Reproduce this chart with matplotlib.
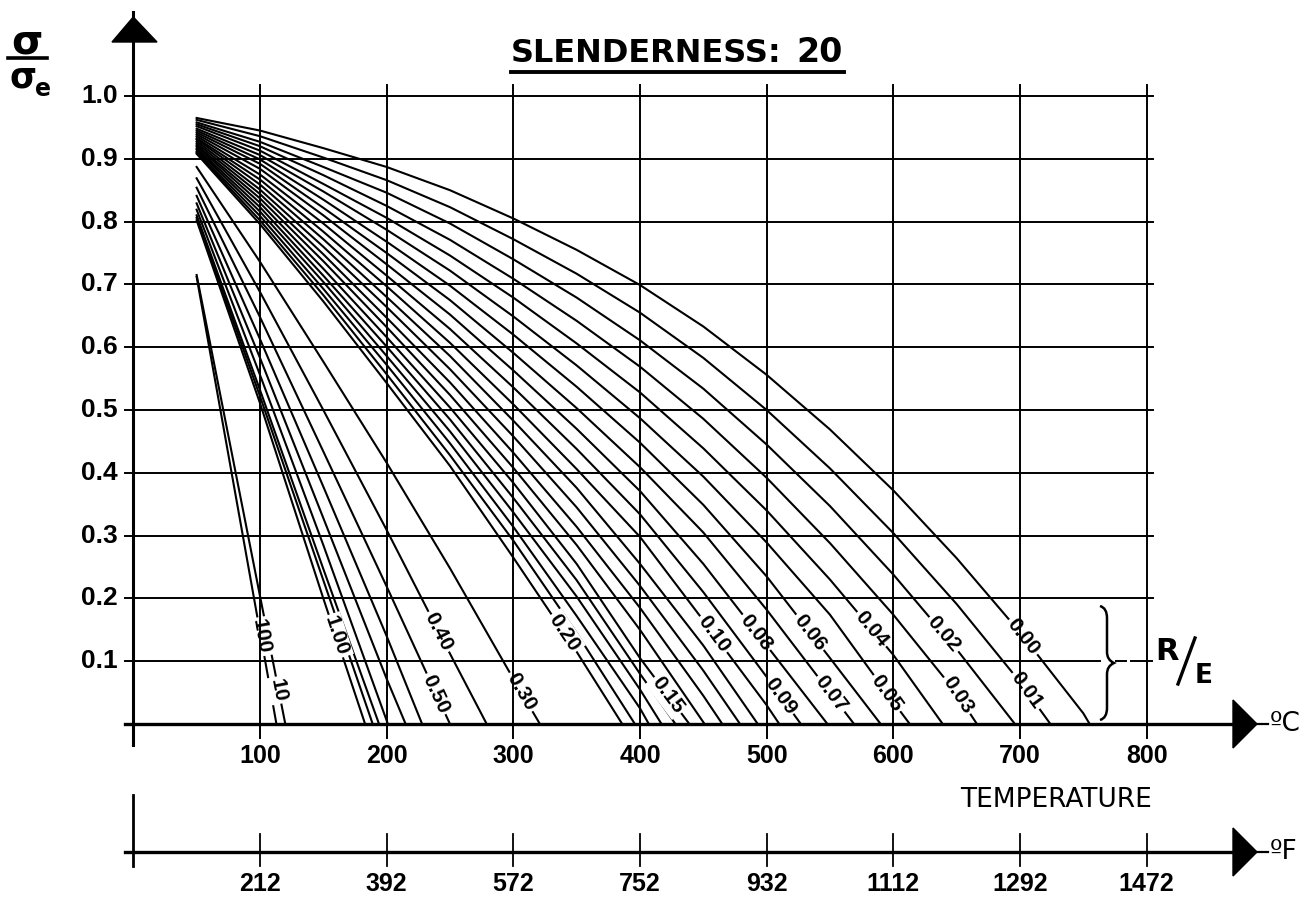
import numpy as np
import matplotlib.pyplot as plt
from matplotlib.path import Path
from matplotlib.patches import PathPatch, Polygon

# R/E of every curve, from the right-most (0.00) to the left-most (100); '' = no label
re_labels = ['0.00', '0.01', '0.02', '0.03', '0.04', '0.05', '0.06', '0.07', '0.08', '0.09',
             '0.10', '', '', '', '', '0.15', '', '', '', '', '0.20', '0.30', '0.40', '0.50',
             '', '', '', '', '', '1.00', '10', '100']
# sigma/sigma_e read at 50, 100, 150 ... C until the curve reaches zero
temps = [50, 100, 150, 200, 250, 300, 350, 400, 450, 500, 550, 600, 650, 700, 750]
curve_y = [
    [.965, .945, .917, .887, .850, .805, .755, .699, .633, .556, .469, .372, .264, .146, .017],
    [.962, .936, .902, .866, .823, .772, .717, .655, .583, .500, .407, .304, .191, .067],
    [.958, .927, .887, .846, .797, .740, .679, .611, .534, .445, .347, .238, .119],
    [.955, .920, .874, .825, .771, .709, .642, .569, .486, .392, .288, .174, .049],
    [.952, .913, .860, .806, .746, .679, .606, .528, .439, .340, .230, .110],
    [.948, .906, .848, .787, .722, .649, .571, .487, .394, .289, .174, .035],
    [.945, .899, .835, .768, .698, .620, .537, .448, .349, .235, .105],
    [.942, .892, .822, .750, .675, .591, .503, .409, .305, .182, .050],
    [.939, .884, .810, .732, .652, .563, .470, .371, .255, .125],
    [.936, .875, .797, .714, .629, .536, .438, .334, .210, .075],
    [.933, .867, .784, .697, .607, .509, .406, .298, .165, .030],
    [.931, .859, .772, .680, .586, .483, .376, .255, .125],
    [.928, .851, .760, .664, .565, .458, .345, .220, .085],
    [.925, .844, .748, .647, .544, .432, .314, .185, .045],
    [.922, .837, .737, .632, .524, .408, .285, .150],
    [.920, .830, .725, .616, .504, .384, .255, .105],
    [.917, .823, .714, .601, .485, .360, .229, .080],
    [.915, .816, .704, .586, .466, .337, .203, .055],
    [.912, .809, .693, .572, .447, .314, .172, .025],
    [.910, .802, .683, .557, .428, .292, .145],
    [.908, .796, .673, .543, .411, .265, .115],
    [.887, .736, .577, .416, .248, .072],
    [.869, .688, .500, .309, .112],
    [.854, .648, .434, .219],
    [.841, .613, .378, .140],
    [.829, .583, .328, .072],
    [.819, .556, .285],
    [.810, .532, .247],
    [.806, .522, .229],
    [.802, .511, .200],
    [.715, .204],
    [.712, .147],
]
# temperature (C) at which each curve reaches sigma/sigma_e = 0
end_T = [755, 724, 696, 666, 639, 613, 590, 569, 548, 527, 510, 493, 479, 465, 451, 439,
         428, 417, 407, 396, 386, 321, 279, 250, 228, 215, 201, 194, 189, 183, 120, 113]
# level at which the R/E label sits on its curve
label_y = [0.139, 0.053, 0.143, 0.046, 0.151, 0.049, 0.146, 0.048, 0.146, 0.045,
           0.143, None, None, None, None, 0.046, None, None, None, None,
           0.145, 0.051, 0.147, 0.048, None, None, None, None, None, 0.140,
           0.054, 0.139]

celsius_ticks = [100, 200, 300, 400, 500, 600, 700, 800]
fahrenheit_labels = ['212', '392', '572', '752', '932', '1112', '1292', '1472']
y_ticks = [0.1, 0.2, 0.3, 0.4, 0.5, 0.6, 0.7, 0.8, 0.9, 1.0]

NARROW = ['Liberation Sans Narrow', 'Liberation Sans', 'DejaVu Sans']


def px_x(px):
    return (px - 133.3) / 1.2667


def px_y(py):
    return (724 - py) / 628.0


fig = plt.figure(figsize=(13.09, 9.0), dpi=100)
ax = fig.add_axes([0, 0, 1, 1])
ax.set_xlim(px_x(0), px_x(1309))
ax.set_ylim(px_y(900), px_y(0))
ax.axis('off')

# grid
for v in y_ticks:
    right = px_x(1100) if v < 0.15 else px_x(1153)
    ax.plot([px_x(125), right], [v, v], color='black', lw=1.4, zorder=4)
for t in celsius_ticks:
    ax.plot([t, t], [px_y(738), px_y(85)], color='black', lw=1.4, zorder=4)

# axes with arrow heads
ax.plot([0, 0], [px_y(745), px_y(12)], color='black', lw=2.2, zorder=5)
ax.add_patch(Polygon([(px_x(112), px_y(42)), (px_x(157), px_y(42)), (0, px_y(17))],
                     closed=True, color='black', zorder=5))
for base_py, unit in [(724, 'ºC'), (852, 'ºF')]:
    yb = px_y(base_py)
    ax.plot([px_x(125), px_x(1234)], [yb, yb], color='black', lw=2.4, zorder=5)
    ax.add_patch(Polygon([(px_x(1233), yb + 24 / 628), (px_x(1233), yb - 24 / 628),
                          (px_x(1257), yb)], closed=True, color='black', zorder=5))
    ax.plot([px_x(1257), px_x(1268)], [yb, yb], color='black', lw=1.6, zorder=5)
    ax.text(px_x(1270), yb, unit, ha='left', va='center', fontsize=19,
            family='DejaVu Sans')

# Fahrenheit scale
ax.plot([0, 0], [px_y(795), px_y(866)], color='black', lw=2.0)
for t, lab in zip(celsius_ticks, fahrenheit_labels):
    ax.plot([t, t], [px_y(834), px_y(866)], color='black', lw=1.3)
    ax.text(t, px_y(884), lab, ha='center', va='center', fontsize=18,
            weight='bold', family=NARROW)
for t in celsius_ticks:
    ax.text(t, px_y(756), str(t), ha='center', va='center', fontsize=18,
            weight='bold', family=NARROW)
for v in y_ticks:
    ax.text(px_x(118), v, f'{v:.1f}', ha='right', va='center', fontsize=19,
            weight='bold', family=NARROW)

ax.text(px_x(1056), px_y(800), 'TEMPERATURE', ha='center', va='center',
        fontsize=19, family='DejaVu Sans')

# sigma / sigma_e
ax.text(px_x(27), px_y(43), 'σ', ha='center', va='center', fontsize=29,
        weight='bold', family='DejaVu Sans')
ax.plot([px_x(8), px_x(47)], [px_y(58), px_y(58)], color='black', lw=2.6)
ax.text(px_x(23), px_y(78), 'σ', ha='center', va='center', fontsize=25,
        weight='bold', family='DejaVu Sans')
ax.text(px_x(43), px_y(89), 'e', ha='center', va='center', fontsize=17,
        weight='bold', family='DejaVu Sans')

# title
ax.text(px_x(511), px_y(62), 'SLENDERNESS:', ha='left', va='baseline',
        fontsize=23, weight='bold', family='DejaVu Sans')
ax.text(px_x(843), px_y(62), '20', ha='right', va='baseline',
        fontsize=24, weight='bold', family='DejaVu Sans')
ax.plot([px_x(511), px_x(844)], [px_y(72), px_y(72)], color='black', lw=2.8)

# R/E with brace
brace = [(1100, 606), (1107, 608), (1107, 618), (1107, 652), (1107, 660), (1114, 663),
         (1107, 666), (1107, 674), (1107, 708), (1107, 718), (1100, 720)]
codes = [Path.MOVETO, Path.CURVE3, Path.CURVE3, Path.LINETO, Path.CURVE3, Path.CURVE3,
         Path.CURVE3, Path.CURVE3, Path.LINETO, Path.CURVE3, Path.CURVE3]
ax.add_patch(PathPatch(Path([(px_x(a), px_y(b)) for a, b in brace], codes),
                       fill=False, lw=1.8, zorder=5))
ax.plot([px_x(1116), px_x(1126)], [0.1, 0.1], color='black', lw=1.4)
ax.plot([px_x(1131), px_x(1152)], [0.1, 0.1], color='black', lw=1.4)
ax.text(px_x(1167), px_y(652), 'R', ha='center', va='center', fontsize=22,
        weight='bold', family='DejaVu Sans')
ax.plot([px_x(1178), px_x(1195)], [px_y(684), px_y(638)], color='black', lw=2.4)
ax.text(px_x(1204), px_y(676), 'E', ha='center', va='center', fontsize=19,
        weight='bold', family='DejaVu Sans')

# curves
for ys0, te, lab, ly in zip(curve_y, end_T, re_labels, label_y):
    ts = temps[:len(ys0)] + [te]
    ys = list(ys0) + [0.0]
    ax.plot(ts, ys, color='black', lw=1.5, zorder=2, solid_joinstyle='round')
    if not lab:
        continue
    lt = np.interp(ly, ys[::-1], ts[::-1])
    k = max(j for j in range(len(ys) - 1) if ys[j] >= ly)
    p = ax.transData.transform([(ts[k], ys[k]), (ts[k + 1], ys[k + 1])])
    ang = np.degrees(np.arctan2(p[1, 1] - p[0, 1], p[1, 0] - p[0, 0]))
    ax.text(lt, ly, lab, rotation=ang, rotation_mode='anchor', ha='center',
            va='center', fontsize=15, weight='bold', family=NARROW, zorder=3,
            bbox=dict(boxstyle='square,pad=0.1', fc='white', ec='none'))

fig.savefig('out.png', dpi=100)
